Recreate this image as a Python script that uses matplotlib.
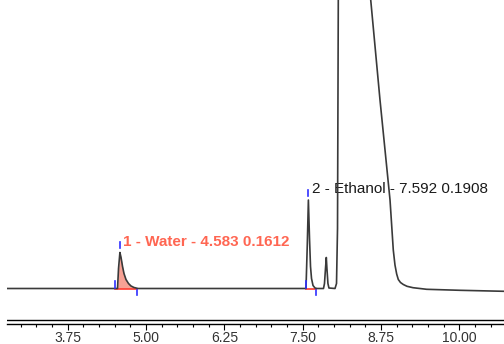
import numpy as np
import matplotlib.pyplot as plt
from matplotlib.ticker import MultipleLocator, FormatStrFormatter

plt.rcParams['font.family'] = ['Liberation Sans', 'DejaVu Sans']

# trace (min, signal)
time = [2.781, 4.505, 4.545, 4.561, 4.583, 4.601, 4.625, 4.648, 4.680, 4.720,
        4.760, 4.808, 4.872, 7.545, 7.553, 7.574, 7.591, 7.609, 7.625, 7.641,
        7.665, 7.697, 7.729, 7.832, 7.848, 7.864, 7.877, 7.887, 7.903, 7.919,
        8.016, 8.040, 8.056, 8.069, 8.080, 8.287, 8.498, 8.586, 8.734, 8.894,
        8.946, 8.973, 9.000, 9.026, 9.061, 9.106, 9.165, 9.261, 9.479, 10.011,
        10.713]
signal = [0, 0, 0, 20, 36, 31, 22, 15, 9, 5,
          2.5, 1, 0, 0, 0, 45, 88.5, 50, 22, 10,
          3, 0.5, 0, 0, 5, 20, 31, 20, 5, 0.5,
          0, 5, 60, 300, 600, 1000, 348.5, 288.5, 188.5, 88.5,
          38.5, 23.5, 14.5, 9, 6, 4, 2.2, 0.8, -0.8, -1.8,
          -2.8]

# integrated peaks: name, apex, start, end, area
peak_names = ['1 - Water', '2 - Ethanol']
peak_rt = [4.583, 7.592]
peak_start = [4.505, 7.553]
peak_end = [4.861, 7.710]
peak_area = [0.1612, 0.1908]
peak_top = [36, 88.5]

time = np.array(time)
signal = np.array(signal)

fig = plt.figure(figsize=(5.04, 3.44), dpi=100)
ax = fig.add_axes([7 / 504, 20.5 / 344, 497 / 504, 323.5 / 344])

ax.plot(time, signal, color='#3a3a3a', lw=1.2, zorder=3)

# water peak fill + baselines
m = (time >= peak_start[0]) & (time <= peak_end[0])
tw = np.concatenate([[peak_start[0]], time[m], [peak_end[0]]])
sw = np.concatenate([[0], signal[m], [0]])
ax.fill_between(tw, 0, sw, color='#f7a194', lw=0, zorder=2)
for i in range(2):
    ax.plot([peak_start[i], peak_end[i]], [0, 0], color='#ff3b30', lw=1.2, zorder=2.5)
    ax.plot([peak_start[i]] * 2, [0.5, 8], color='#3030ff', lw=1.2, zorder=4)
    ax.plot([peak_end[i]] * 2, [-1.5, -6], color='#3030ff', lw=1.2, zorder=4)
    ax.plot([peak_rt[i]] * 2, [peak_top[i] + 4.5, peak_top[i] + 10.5],
            color='#3030ff', lw=1.2, zorder=4)

lbl_colors = ['#ff6652', '#1a1a1a']
lbl_weights = ['bold', 'normal']
for i in range(2):
    txt = '%s - %.3f %.4f' % (peak_names[i], peak_rt[i], peak_area[i])
    ax.text(peak_rt[i] + 0.05, peak_top[i] + 11, txt, color=lbl_colors[i],
            fontsize=11, fontweight=lbl_weights[i], va='center', ha='left', zorder=1)

ax.set_xlim(2.781, 10.713)
ax.set_ylim(-35, 288.5)
ax.axhline(-31.5, color='black', lw=1.0)

for s in ['top', 'left', 'right']:
    ax.spines[s].set_visible(False)
ax.spines['bottom'].set_linewidth(1.0)
ax.set_yticks([])
ax.xaxis.set_major_locator(MultipleLocator(1.25))
ax.xaxis.set_minor_locator(MultipleLocator(0.25))
ax.xaxis.set_major_formatter(FormatStrFormatter('%.2f'))
ax.tick_params(axis='x', which='major', direction='out', length=4.2, width=0.8,
               pad=1.2, labelsize=10, labelcolor='#333333')
ax.tick_params(axis='x', which='minor', direction='out', length=2.5, width=0.8)

fig.savefig('out.png', dpi=100)
